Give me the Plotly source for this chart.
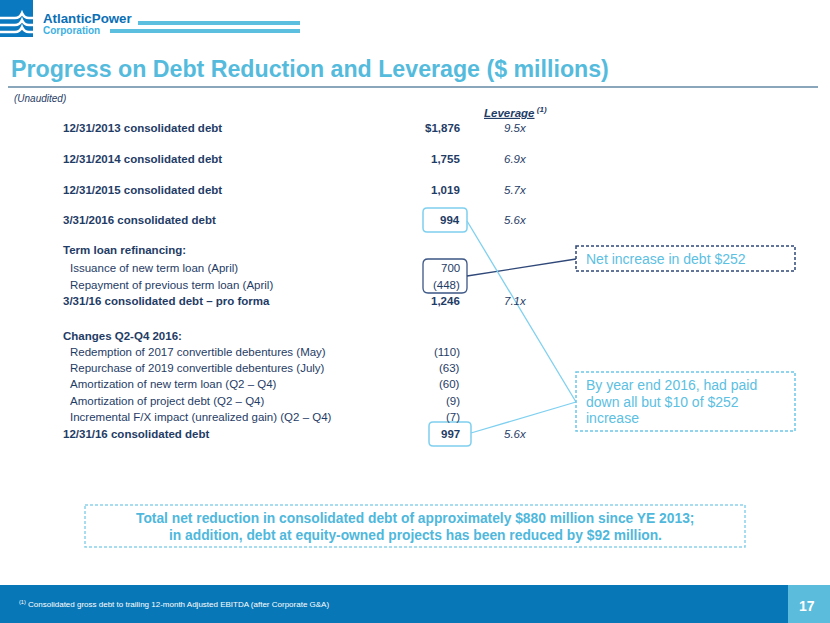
import plotly.graph_objects as go

# ---------------- data ----------------
row_labels = [
    "12/31/2013 consolidated debt",
    "12/31/2014 consolidated debt",
    "12/31/2015 consolidated debt",
    "3/31/2016 consolidated debt",
    "Term loan refinancing:",
    "Issuance of new term loan (April)",
    "Repayment of previous term loan (April)",
    "3/31/16 consolidated debt \u2013 pro forma",
    "Changes Q2-Q4 2016:",
    "Redemption of 2017 convertible debentures (May)",
    "Repurchase of 2019 convertible debentures (July)",
    "Amortization of new term loan (Q2 \u2013 Q4)",
    "Amortization of project debt (Q2 \u2013 Q4)",
    "Incremental F/X impact (unrealized gain) (Q2 \u2013 Q4)",
    "12/31/16 consolidated debt",
]
debt_values = [1876, 1755, 1019, 994, None, 700, -448, 1246, None,
               -110, -63, -60, -9, -7, 997]
leverage_values = [9.5, 6.9, 5.7, 5.6, None, None, None, 7.1, None,
                   None, None, None, None, None, 5.6]

title_text = "Progress on Debt Reduction and Leverage ($ millions)"
callout_1 = "Net increase in debt $252"
callout_2 = ["By year end 2016, had paid", "down all but $10 of $252", "increase"]
summary_lines = [
    "Total net reduction in consolidated debt of approximately $880 million since YE 2013;",
    "in addition, debt at equity-owned projects has been reduced by $92 million.",
]
footnote = "Consolidated gross debt to trailing 12-month Adjusted EBITDA (after Corporate G&A)"
page_number = "17"

# ---------------- layout / style ----------------
row_y = [128, 159, 190, 220, 250, 268, 285, 301, 336, 352, 368, 384, 401, 417, 434]
row_bold = [True, True, True, True, True, False, False, True, True,
            False, False, False, False, False, True]
bold_num = [True, True, True, True, False, False, False, True, False,
            False, False, False, False, False, True]

FONT = "Arial, Liberation Sans, sans-serif"
NAVY = "#1f3c66"
TITLE_BLUE = "#55bbdd"
LIGHT = "#7fd0f0"
CALL_TEXT = "#5cc0e2"
DARK_LINE = "#2f4878"

LABEL_X_BOLD = 62
LABEL_X_IND = 69
NUM_RIGHT = 461
LEV_CENTER = 515
FS = 11.5

fig = go.Figure()
fig.add_trace(go.Scatter(x=[0, 830], y=[0, 623], mode="markers",
                         marker=dict(opacity=0), hoverinfo="skip", showlegend=False))

def ann(x, y, text, size, color, xanchor="left", bold=False, italic=False, yanchor="middle"):
    t = text
    if italic:
        t = "<i>" + t + "</i>"
    if bold:
        t = "<b>" + t + "</b>"
    fig.add_annotation(x=x, y=y, text=t, showarrow=False, xanchor=xanchor, yanchor=yanchor,
                       font=dict(family=FONT, size=size, color=color), borderpad=0)

def fmt_debt(v, i):
    s = f"{abs(v):,}"
    if v < 0:
        s = "(" + s + ")"
    if i == 0:
        s = "$" + s
    return s

# table rows
for i, lab in enumerate(row_labels):
    x = LABEL_X_BOLD if row_bold[i] else LABEL_X_IND
    ann(x, row_y[i], lab, FS, NAVY, bold=row_bold[i])
    v = debt_values[i]
    if v is not None:
        ann(NUM_RIGHT, row_y[i], fmt_debt(v, i), FS, NAVY, xanchor="right", bold=bold_num[i])
    lv = leverage_values[i]
    if lv is not None:
        ann(LEV_CENTER, row_y[i], f"{lv:.1f}x", FS, NAVY, xanchor="center", italic=True)

# leverage header
fig.add_annotation(x=LEV_CENTER, y=112, showarrow=False, xanchor="center", yanchor="middle",
                   text="<b><i><u>Leverage</u></i></b><b><i><sup> (1)</sup></i></b>",
                   font=dict(family=FONT, size=FS, color=NAVY), borderpad=0)

# title and subtitle
ann(10, 69, title_text, 23.2, TITLE_BLUE, bold=True)
ann(13, 98, "(Unaudited)", 10, NAVY, italic=True)

# callouts
ann(585, 259, callout_1, 14, CALL_TEXT)
for k, line in enumerate(callout_2):
    ann(585, 385 + 16.5 * k, line, 14, CALL_TEXT)

# summary box text
for k, line in enumerate(summary_lines):
    ann(415, 518 + 17 * k, line, 13.8, "#4fb8dc", xanchor="center", bold=True)

# footer
fig.add_annotation(x=18, y=604, showarrow=False, xanchor="left", yanchor="middle",
                   text="<sup>(1)</sup> " + footnote,
                   font=dict(family=FONT, size=8, color="white"), borderpad=0)
ann(807, 606, page_number, 14, "white", xanchor="center", bold=True)

# logo text
ann(42, 18, "AtlanticPower", 13.3, "#0b6fb6", bold=True)
ann(42, 30, "Corporation", 10, "#3cb1e3", bold=True)

# ---------------- shapes ----------------
shapes = []

def rrect(x0, y0, x1, y1, r, color, width):
    p = (f"M{x0+r},{y0} L{x1-r},{y0} Q{x1},{y0} {x1},{y0+r} L{x1},{y1-r} "
         f"Q{x1},{y1} {x1-r},{y1} L{x0+r},{y1} Q{x0},{y1} {x0},{y1-r} "
         f"L{x0},{y0+r} Q{x0},{y0} {x0+r},{y0} Z")
    shapes.append(dict(type="path", path=p, line=dict(color=color, width=width),
                       xref="x", yref="y"))

def line(x0, y0, x1, y1, color, width, dash=None):
    d = dict(type="line", x0=x0, y0=y0, x1=x1, y1=y1, xref="x", yref="y",
             line=dict(color=color, width=width))
    if dash:
        d["line"]["dash"] = dash
    shapes.append(d)

def rect(x0, y0, x1, y1, fill=None, color=None, width=0, dash=None):
    d = dict(type="rect", x0=x0, y0=y0, x1=x1, y1=y1, xref="x", yref="y",
             line=dict(color=color or "rgba(0,0,0,0)", width=width), layer="below")
    if fill:
        d["fillcolor"] = fill
    if dash:
        d["line"]["dash"] = dash
    shapes.append(d)

# footer bands
rect(0, 585, 788, 623, fill="#0877b7")
rect(788, 585, 830, 623, fill="#5cbcdc")

# title underline
line(8, 87, 818, 87, "#8aa6ba", 2)

# logo icon
rect(0, 0, 33, 37, fill="#0b79bf")
for k in range(3):
    y0 = 18 + 7 * k
    p = (f"M0,{y0} L15,{y0} Q20,{y0} 22,{y0-5} Q24,{y0} 29,{y0} L33,{y0}")
    shapes.append(dict(type="path", path=p, line=dict(color="white", width=2.5),
                       xref="x", yref="y"))
rect(138, 21, 300, 25, fill="#5cbfe0")
rect(110, 29, 300, 33, fill="#5cbfe0")

# highlight boxes
rrect(423, row_y[3] - 12, 467, row_y[3] + 12, 4, LIGHT, 1.5)
rrect(423, row_y[5] - 9, 467, row_y[6] + 8, 5, "#3b5685", 1.3)
rrect(429, row_y[14] - 12, 471, row_y[14] + 12, 4, LIGHT, 1.5)

# connectors
line(467, 276, 576, 259, DARK_LINE, 1.3)
line(467, 221, 576, 402, LIGHT, 1.3)
line(471, 433, 576, 402, LIGHT, 1.3)

# dashed callout boxes
shapes.append(dict(type="rect", x0=576, y0=246, x1=795, y1=271, xref="x", yref="y",
                   line=dict(color=DARK_LINE, width=1.5, dash="3px,2px")))
shapes.append(dict(type="rect", x0=576, y0=372, x1=795, y1=431, xref="x", yref="y",
                   line=dict(color="#6cc8e8", width=1.5, dash="3px,2px")))
shapes.append(dict(type="rect", x0=85, y0=505, x1=745, y1=547, xref="x", yref="y",
                   line=dict(color="#8ad2ea", width=1.5, dash="3px,2px")))

fig.update_layout(
    width=830, height=623,
    margin=dict(l=0, r=0, t=0, b=0),
    paper_bgcolor="white", plot_bgcolor="white",
    xaxis=dict(range=[0, 830], visible=False, fixedrange=True),
    yaxis=dict(range=[623, 0], visible=False, fixedrange=True),
    shapes=shapes,
    showlegend=False,
)

fig.write_html("out.html", config={"displayModeBar": False},
               post_script="document.body.style.margin='0px';document.body.style.overflow='hidden';")
